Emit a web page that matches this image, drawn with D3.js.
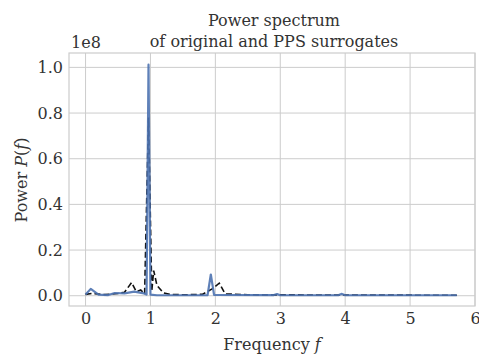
<!DOCTYPE html>
<html><head><meta charset="utf-8">
<script src="https://cdn.jsdelivr.net/npm/d3@7"></script>
<style>body{margin:0;background:#fff}svg{display:block}text{font-family:"DejaVu Serif",serif;fill:#333}</style>
</head><body><svg id="c" width="479" height="356"></svg>
<script>
// Original series (blue solid), power in units of 1e8
const origFreq  = [0.0, 0.08, 0.2, 0.35, 0.45, 0.6, 0.75, 0.9, 0.94, 0.97, 1.0, 1.1, 1.5, 1.88, 1.93, 1.98, 2.9, 2.95, 3.0, 3.9, 3.95, 4.0, 5.72];
const origPower = [0.005, 0.03, 0.005, 0.003, 0.012, 0.01, 0.018, 0.01, 0.005, 1.012, 0.005, 0.002, 0.002, 0.003, 0.093, 0.004, 0.003, 0.007, 0.002, 0.003, 0.008, 0.002, 0.002];
// PPS surrogates (black dashed)
const surrFreq  = [0.0, 0.1, 0.3, 0.5, 0.6, 0.71, 0.78, 0.85, 0.91, 0.97, 1.02, 1.05, 1.1, 1.2, 1.3, 1.5, 1.8, 1.95, 2.06, 2.15, 2.5, 5.72];
const surrPower = [0.006, 0.01, 0.005, 0.01, 0.015, 0.058, 0.018, 0.025, 0.008, 0.78, 0.02, 0.11, 0.045, 0.012, 0.006, 0.004, 0.006, 0.03, 0.055, 0.008, 0.004, 0.002];
const xTicks = [0, 1, 2, 3, 4, 5, 6];
const yTicks = [0.0, 0.2, 0.4, 0.6, 0.8, 1.0];

const FS = "16px";
const svg = d3.select("#c");
const L = 69, R = 475, T = 53, B = 306;
const x = d3.scaleLinear().domain([-0.255, 6.0]).range([L, R]);
const y = d3.scaleLinear().domain([-0.045, 1.063]).range([B, T]);

// grid
const g = svg.append("g");
g.selectAll(".gx").data(xTicks).join("line")
  .attr("x1", d => x(d)).attr("x2", d => x(d)).attr("y1", T).attr("y2", B)
  .attr("stroke", "#cccccc").attr("stroke-width", 1);
g.selectAll(".gy").data(yTicks).join("line")
  .attr("x1", L).attr("x2", R).attr("y1", d => y(d)).attr("y2", d => y(d))
  .attr("stroke", "#cccccc").attr("stroke-width", 1);

// axes (labels only)
const xa = svg.append("g").attr("transform", `translate(0,${B})`)
  .call(d3.axisBottom(x).tickValues(xTicks).tickSize(0).tickPadding(7).tickFormat(d3.format("d")));
const ya = svg.append("g").attr("transform", `translate(${L},0)`)
  .call(d3.axisLeft(y).tickValues(yTicks).tickSize(0).tickPadding(6).tickFormat(d3.format(".1f")));
[xa, ya].forEach(a => {
  a.select(".domain").remove();
  a.selectAll("text").style("font-family", '"DejaVu Serif", serif').style("font-size", FS).attr("fill", "#333");
});

// lines
const line = d3.line().x(d => x(d[0])).y(d => y(d[1]));
svg.append("path").datum(d3.zip(surrFreq, surrPower)).attr("d", line)
  .attr("fill", "none").attr("stroke", "#111").attr("stroke-width", 1.6).attr("stroke-dasharray", "6,3");
svg.append("path").datum(d3.zip(origFreq, origPower)).attr("d", line)
  .attr("fill", "none").attr("stroke", "#4c72b0").attr("stroke-width", 2.2).attr("stroke-opacity", 0.9)
  .attr("stroke-linejoin", "round");

// frame
svg.append("rect").attr("x", L).attr("y", T).attr("width", R - L).attr("height", B - T)
  .attr("fill", "none").attr("stroke", "#cccccc").attr("stroke-width", 1.2);

// texts
svg.append("text").attr("x", 274).attr("y", 26).attr("text-anchor", "middle").style("font-size", FS).text("Power spectrum");
svg.append("text").attr("x", 274).attr("y", 47).attr("text-anchor", "middle").style("font-size", FS).text("of original and PPS surrogates");
svg.append("text").attr("x", 71).attr("y", 48).style("font-size", FS).text("1e8");
const xl = svg.append("text").attr("x", 272).attr("y", 350).attr("text-anchor", "middle").style("font-size", FS);
xl.append("tspan").text("Frequency ");
xl.append("tspan").style("font-style", "italic").text("f");
const yl = svg.append("text").attr("transform", "translate(27,180) rotate(-90)").attr("text-anchor", "middle").style("font-size", FS);
yl.append("tspan").text("Power ");
yl.append("tspan").style("font-style", "italic").text("P");
yl.append("tspan").text("(");
yl.append("tspan").style("font-style", "italic").text("f");
yl.append("tspan").text(")");
</script></body></html>
